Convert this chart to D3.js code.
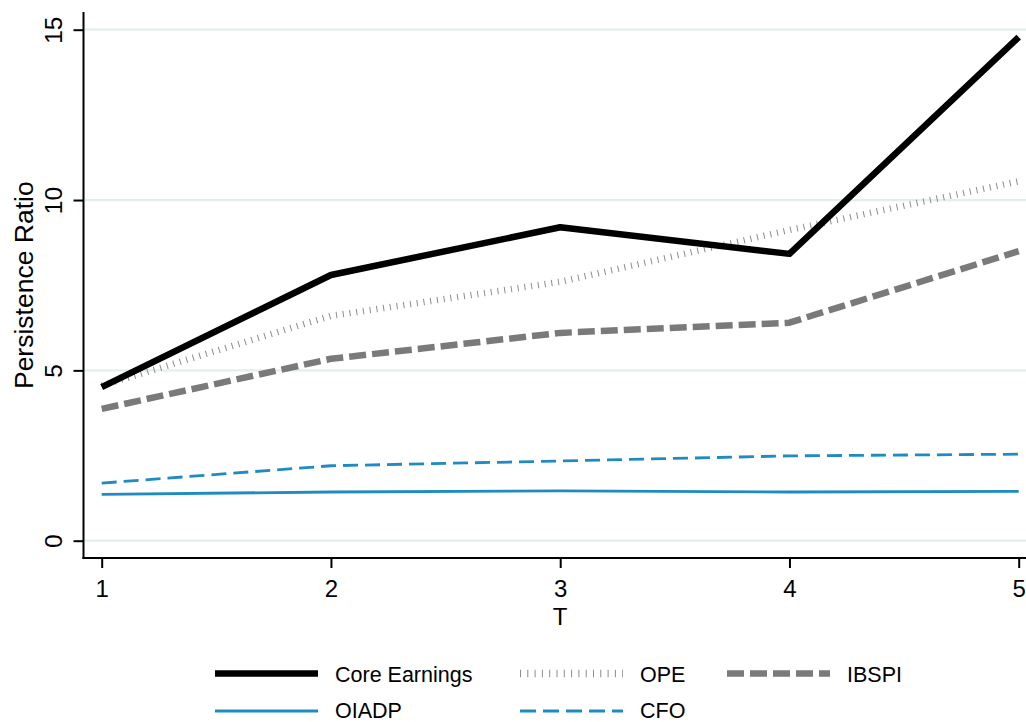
<!DOCTYPE html>
<html>
<head>
<meta charset="utf-8">
<script src="https://cdn.jsdelivr.net/npm/d3@7"></script>
<style>
  html, body { margin: 0; padding: 0; background: #fff; }
  svg text { font-family: "Liberation Sans", Arial, Helvetica, sans-serif; fill: #000; }
</style>
</head>
<body>
<svg id="chart" width="1026" height="722"></svg>
<script>
// Horizon values and persistence ratios per earnings measure
const periods = [1, 2, 3, 4, 5];
const coreEarnings = [4.51, 7.80, 9.20, 8.42, 14.78];
const ope = [4.55, 6.60, 7.60, 9.12, 10.55];
const ibspi = [3.87, 5.34, 6.10, 6.40, 8.50];
const oiadp = [1.36, 1.43, 1.46, 1.43, 1.45];
const cfo = [1.69, 2.20, 2.34, 2.49, 2.54];
const yTicks = [0, 5, 10, 15];

const blue = "#1f8bc0";
const series = [
  { name: "Core Earnings", values: coreEarnings, color: "#000", width: 6.5, dash: null, legendDash: null, row: 0, col: 0 },
  { name: "OPE", values: ope, color: "#8c8c8c", width: 6.5, dash: "1,5.8", legendDash: "1,6.3", row: 0, col: 1 },
  { name: "IBSPI", values: ibspi, color: "#7a7a7a", width: 6.5, dash: "17,6", legendDash: "17,6", row: 0, col: 2 },
  { name: "OIADP", values: oiadp, color: blue, width: 2.8, dash: null, legendDash: null, row: 1, col: 0 },
  { name: "CFO", values: cfo, color: blue, width: 2.8, dash: "15,7", legendDash: "16,7", row: 1, col: 1 }
];

const svg = d3.select("#chart");

const x = d3.scaleLinear().domain([1, 5]).range([101.7, 1018.7]);
const y = d3.scaleLinear().domain([0, 15]).range([540.7, 29.7]);

const axisLeftX = 83.5, axisBottomY = 558;

// grid lines
svg.append("g").selectAll("line").data(yTicks).join("line")
  .attr("x1", axisLeftX + 1).attr("x2", 1026)
  .attr("y1", d => y(d)).attr("y2", d => y(d))
  .attr("stroke", "#e3eeee").attr("stroke-width", 2.2);

// series lines
const line = d3.line().x((d, i) => x(periods[i])).y(d => y(d));
const order = ["OIADP", "CFO", "IBSPI", "OPE", "Core Earnings"];
svg.append("g").selectAll("path")
  .data(order.map(n => series.find(s => s.name === n)))
  .join("path")
  .attr("d", d => line(d.values))
  .attr("fill", "none")
  .attr("stroke", d => d.color)
  .attr("stroke-width", d => d.width)
  .attr("stroke-dasharray", d => d.dash)
  .attr("stroke-linejoin", "round");

// Y axis
const yAxis = svg.append("g").attr("transform", `translate(${axisLeftX},0)`)
  .call(d3.axisLeft(y).tickValues(yTicks).tickSize(10).tickSizeOuter(0).tickFormat(d3.format("d")));
yAxis.select(".domain").remove();
yAxis.selectAll(".tick line").attr("stroke", "#000").attr("stroke-width", 2);
yAxis.selectAll(".tick text")
  .attr("font-size", 24.5)
  .attr("x", 0).attr("dy", 0)
  .attr("text-anchor", "middle")
  .attr("transform", "translate(-22,0) rotate(-90)");
svg.append("line")
  .attr("x1", axisLeftX).attr("x2", axisLeftX)
  .attr("y1", 12).attr("y2", axisBottomY + 1)
  .attr("stroke", "#000").attr("stroke-width", 2);

// X axis
const xAxis = svg.append("g").attr("transform", `translate(0,${axisBottomY})`)
  .call(d3.axisBottom(x).tickValues(periods).tickSize(10).tickSizeOuter(0).tickFormat(d3.format("d")));
xAxis.select(".domain").remove();
xAxis.selectAll(".tick line").attr("stroke", "#000").attr("stroke-width", 2);
xAxis.selectAll(".tick text").attr("font-size", 24).attr("y", 39).attr("dy", 0);
svg.append("line")
  .attr("x1", axisLeftX - 1).attr("x2", 1026)
  .attr("y1", axisBottomY).attr("y2", axisBottomY)
  .attr("stroke", "#000").attr("stroke-width", 2);

// axis titles
svg.append("text")
  .attr("x", (x(1) + x(5)) / 2).attr("y", 625)
  .attr("text-anchor", "middle").attr("font-size", 24)
  .text("T");
svg.append("text")
  .attr("transform", `translate(33,${(y(0) + y(15)) / 2}) rotate(-90)`)
  .attr("text-anchor", "middle").attr("font-size", 26.5)
  .text("Persistence Ratio");

// legend
const colKeyX = [215, 520, 727];
const rowY = [673.5, 711];
const legend = svg.append("g");
const items = legend.selectAll("g").data(series).join("g")
  .attr("transform", d => `translate(${colKeyX[d.col]},${rowY[d.row]})`);
items.append("line")
  .attr("x1", 0).attr("x2", 103).attr("y1", 0).attr("y2", 0)
  .attr("stroke", d => d.color)
  .attr("stroke-width", d => d.name === "OPE" ? 7.5 : d.width)
  .attr("stroke-dasharray", d => d.legendDash);
items.append("text")
  .attr("x", 120).attr("y", d => d.row === 0 ? 8 : 6.5)
  .attr("font-size", 21.5)
  .text(d => d.name);
</script>
</body>
</html>
